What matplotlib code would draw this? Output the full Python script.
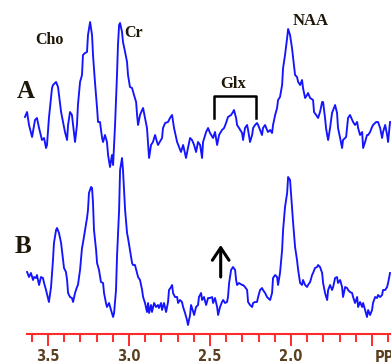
import matplotlib
matplotlib.use("Agg")
import matplotlib.pyplot as plt
from matplotlib.ticker import FixedLocator
import numpy as np

# spectrum A (upper trace): chemical shift in ppm, amplitude in arbitrary units
ppm_a = [3.642, 3.629, 3.617, 3.598, 3.580, 3.568, 3.555, 3.537, 3.524, 3.512,
         3.506, 3.494, 3.475, 3.469, 3.450, 3.438, 3.432, 3.419, 3.407, 3.395,
         3.382, 3.376, 3.364, 3.352, 3.345, 3.333, 3.321, 3.315, 3.302, 3.290,
         3.284, 3.271, 3.259, 3.253, 3.240, 3.228, 3.222, 3.210, 3.197, 3.191,
         3.179, 3.166, 3.160, 3.148, 3.136, 3.129, 3.117, 3.105, 3.098, 3.086,
         3.074, 3.068, 3.061, 3.055, 3.043, 3.037, 3.024, 3.012, 3.006, 2.994,
         2.981, 2.969, 2.956, 2.950, 2.944, 2.932, 2.919, 2.913, 2.901, 2.889,
         2.882, 2.876, 2.864, 2.852, 2.839, 2.827, 2.821, 2.796, 2.790, 2.777,
         2.759, 2.747, 2.734, 2.722, 2.703, 2.691, 2.679, 2.666, 2.648, 2.636,
         2.623, 2.611, 2.598, 2.586, 2.574, 2.561, 2.549, 2.543, 2.524, 2.512,
         2.500, 2.481, 2.469, 2.456, 2.444, 2.426, 2.413, 2.401, 2.389, 2.370,
         2.358, 2.352, 2.339, 2.333, 2.321, 2.302, 2.296, 2.284, 2.271, 2.265,
         2.253, 2.240, 2.234, 2.222, 2.210, 2.203, 2.191, 2.179, 2.173, 2.160,
         2.148, 2.142, 2.129, 2.117, 2.111, 2.098, 2.086, 2.080, 2.068, 2.055,
         2.049, 2.037, 2.024, 2.018, 2.006, 1.994, 1.987, 1.975, 1.963, 1.956,
         1.944, 1.932, 1.926, 1.913, 1.901, 1.895, 1.882, 1.864, 1.858, 1.845,
         1.833, 1.821, 1.808, 1.802, 1.790, 1.784, 1.777, 1.771, 1.759, 1.747,
         1.740, 1.728, 1.716, 1.710, 1.697, 1.685, 1.679, 1.660, 1.648, 1.636,
         1.617, 1.605, 1.592, 1.586, 1.574, 1.561, 1.555, 1.543, 1.531, 1.524,
         1.512, 1.500, 1.494, 1.475, 1.463, 1.450, 1.438, 1.432, 1.419, 1.407,
         1.401, 1.389]
amp_a = [33, 38, 25, 13, 30, 32, 22, 10, 12, 2,
         5, 32, 62, 65, 68, 63, 55, 38, 28, 18,
         10, 25, 38, 35, 25, 8, 25, 45, 68, 75,
         95, 97, 98, 115, 128, 115, 95, 68, 42, 28,
         28, 12, 8, 15, 8, -5, -17, -5, -15, 25,
         75, 105, 125, 127, 118, 108, 98, 88, 75, 63,
         62, 55, 48, 35, 25, 35, 40, 42, 32, 22,
         5, -8, 5, 8, 15, 8, 5, 12, 22, 27,
         28, 32, 35, 22, 8, 3, -2, 5, -8, 2,
         12, 10, 5, -2, 8, 5, -8, 8, 18, 22,
         17, 12, 18, 5, 15, 20, 22, 27, 33, 35,
         38, 40, 32, 25, 22, 17, 10, 22, 25, 20,
         8, 15, 22, 25, 27, 25, 20, 15, 22, 25,
         20, 18, 20, 17, 25, 35, 42, 50, 53, 65,
         82, 95, 112, 121, 115, 102, 92, 75, 73, 68,
         65, 70, 62, 52, 55, 57, 52, 50, 38, 35,
         32, 38, 48, 48, 32, 22, 15, 10, 22, 37,
         40, 45, 37, 22, 12, 2, 10, 13, 32, 35,
         28, 25, 28, 22, 15, 18, 2, 8, 15, 15,
         18, 23, 25, 28, 28, 22, 12, 18, 25, 15,
         8, 28]

# spectrum B (lower trace)
ppm_b = [3.629, 3.617, 3.605, 3.592, 3.586, 3.574, 3.568, 3.555, 3.543, 3.531,
         3.524, 3.512, 3.500, 3.494, 3.481, 3.469, 3.463, 3.450, 3.444, 3.432,
         3.419, 3.407, 3.401, 3.389, 3.382, 3.376, 3.364, 3.352, 3.345, 3.333,
         3.321, 3.315, 3.302, 3.290, 3.284, 3.271, 3.259, 3.253, 3.247, 3.234,
         3.228, 3.222, 3.216, 3.203, 3.197, 3.185, 3.173, 3.160, 3.154, 3.142,
         3.136, 3.123, 3.111, 3.098, 3.092, 3.080, 3.074, 3.061, 3.055, 3.043,
         3.037, 3.024, 3.012, 3.006, 2.994, 2.981, 2.975, 2.963, 2.950, 2.944,
         2.932, 2.919, 2.913, 2.901, 2.889, 2.882, 2.876, 2.864, 2.858, 2.845,
         2.833, 2.821, 2.815, 2.802, 2.796, 2.784, 2.771, 2.759, 2.753, 2.740,
         2.734, 2.728, 2.716, 2.703, 2.697, 2.685, 2.673, 2.666, 2.654, 2.642,
         2.636, 2.623, 2.617, 2.611, 2.598, 2.586, 2.574, 2.568, 2.555, 2.549,
         2.537, 2.524, 2.512, 2.500, 2.487, 2.481, 2.469, 2.456, 2.450, 2.438,
         2.426, 2.419, 2.407, 2.395, 2.389, 2.382, 2.370, 2.358, 2.345, 2.339,
         2.333, 2.321, 2.302, 2.296, 2.284, 2.271, 2.265, 2.253, 2.240, 2.234,
         2.222, 2.210, 2.203, 2.191, 2.179, 2.173, 2.160, 2.148, 2.142, 2.129,
         2.117, 2.111, 2.098, 2.086, 2.080, 2.068, 2.055, 2.049, 2.037, 2.024,
         2.018, 2.006, 1.994, 1.987, 1.975, 1.963, 1.956, 1.944, 1.932, 1.926,
         1.913, 1.901, 1.895, 1.882, 1.870, 1.864, 1.852, 1.839, 1.833, 1.821,
         1.808, 1.802, 1.790, 1.777, 1.771, 1.759, 1.747, 1.740, 1.728, 1.716,
         1.710, 1.697, 1.685, 1.679, 1.666, 1.654, 1.648, 1.636, 1.623, 1.617,
         1.605, 1.592, 1.586, 1.574, 1.561, 1.555, 1.543, 1.531, 1.524, 1.512,
         1.500, 1.494, 1.481, 1.469, 1.463, 1.450, 1.438, 1.432, 1.419, 1.407,
         1.401, 1.389]
amp_b = [28, 23, 27, 20, 23, 22, 25, 15, 23, 22,
         17, 10, 2, -2, 13, 40, 57, 70, 72, 67,
         57, 40, 32, 28, 20, 7, 3, 2, -2, 7,
         13, 15, 30, 52, 57, 70, 82, 90, 107, 113,
         112, 97, 70, 50, 37, 30, 18, 17, 7, -3,
         -7, -3, -10, -17, -13, 10, 43, 90, 130, 142,
         130, 90, 67, 62, 50, 37, 35, 35, 27, 23,
         20, 10, 3, -3, -12, -3, -13, -5, -12, -3,
         -7, -5, -8, -3, -10, -3, -12, -2, 10, 13,
         15, 7, 3, 3, -3, 0, -2, -7, -13, -20,
         -25, -15, -5, -8, -15, -7, -5, 3, 7, 0,
         3, -5, 2, 2, 3, -3, 2, -7, -15, -7,
         -2, 0, -3, -2, 3, 17, 30, 33, 30, 20,
         15, 17, 15, 15, 13, 10, -2, -5, -7, -3,
         -2, -2, 3, 10, 12, 10, 7, 3, 2, 0,
         7, 22, 25, 23, 15, 27, 50, 70, 93, 107,
         123, 120, 93, 77, 53, 40, 30, 17, 15, 20,
         15, 13, 15, 18, 25, 27, 32, 33, 35, 33,
         27, 17, 7, 0, 10, 15, 10, 13, 22, 23,
         17, 20, 13, 3, 13, 12, 10, 8, 7, 3,
         -3, 3, -7, -2, -7, -3, -10, -17, -10, -15,
         -10, -3, 3, 2, 5, 3, 5, 10, 10, 13,
         17, 27]

major_ticks = [3.5, 3.0, 2.5, 2.0, 1.5]
major_labels = ["3.5", "3.0", "2.5", "2.0", ""]
minor_ticks = [3.6, 3.4, 3.3, 3.2, 3.1, 2.9, 2.8, 2.7, 2.6,
               2.4, 2.3, 2.2, 2.1, 1.9, 1.8, 1.7, 1.6, 1.4]

BLUE = "#1414ff"
RED = "#ff2a2a"
INK = "#1e1608"

fig = plt.figure(figsize=(3.91, 3.64), dpi=100, facecolor="white")
ax = fig.add_axes([0, 30 / 364, 1, 334 / 364])
ax.set_xlim(3.796, 1.383)
ax.set_ylim(0, 334)
ax.patch.set_alpha(0)

ax.plot(ppm_a, np.array(amp_a) + 184, color=BLUE, lw=1.35)
ax.plot(ppm_b, np.array(amp_b) + 34, color=BLUE, lw=1.35)

# ppm scale
for s in ["top", "left", "right"]:
    ax.spines[s].set_visible(False)
ax.spines["bottom"].set_color(RED)
ax.spines["bottom"].set_linewidth(1.5)
ax.spines["bottom"].set_bounds(3.63, 1.383)
ax.set_yticks([])
ax.set_xticks(major_ticks, major_labels)
ax.xaxis.set_minor_locator(FixedLocator(minor_ticks))
ax.tick_params(axis="x", which="major", length=8.6, width=1.4, color=RED,
               pad=2.5, labelsize=10.5, labelcolor="#5a4020")
ax.tick_params(axis="x", which="minor", length=5.4, width=1.4, color=RED)
for lab in ax.get_xticklabels():
    lab.set_fontweight("bold")
    lab.set_fontstretch("condensed")
ax.text(1.481, -16, "PPM", ha="left", va="top", fontsize=10.5, fontweight="bold",
        fontstretch="condensed", color="#5a4020", clip_on=False)

# peak labels
lab_kw = dict(family="Liberation Serif", fontweight="bold", color=INK, va="baseline")
ax.text(3.580, 290, "Cho", fontsize=11.5, **lab_kw)
ax.text(3.031, 297, "Cr", fontsize=11.5, **lab_kw)
ax.text(1.987, 309, "NAA", fontsize=12, **lab_kw)
ax.text(2.438, 246, "Glx", fontsize=12, **lab_kw)
ax.text(3.691, 236, "A", fontsize=18, **lab_kw)
ax.text(3.703, 81, "B", fontsize=18, **lab_kw)

# Glx bracket
ax.plot([2.475, 2.475, 2.216, 2.216], [216, 238, 238, 216], color="black", lw=1.8)

# arrow in spectrum B
ax.annotate("", xy=(2.434, 89), xytext=(2.434, 57),
            arrowprops=dict(arrowstyle="->,head_length=0.45,head_width=0.3",
                            lw=2.2, color="black", mutation_scale=20,
                            shrinkA=0, shrinkB=0))

fig.savefig("out.png", dpi=100, facecolor="white")
